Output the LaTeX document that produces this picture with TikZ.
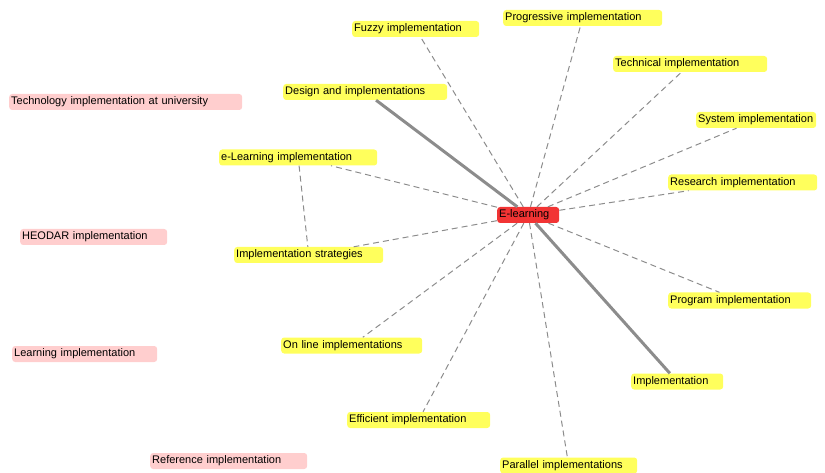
\documentclass[tikz,border=0pt]{standalone}
\usepackage{fontspec}
\setmainfont{Liberation Sans}
\definecolor{tagyellow}{RGB}{255,255,92}
\definecolor{tagpink}{RGB}{255,206,206}
\definecolor{tagred}{RGB}{242,52,52}
\begin{document}
\begin{tikzpicture}[x=1pt, y=-1pt,
    topic/.style = {anchor=west, rounded corners=3pt, inner xsep=2pt, inner ysep=0pt,
      minimum height=16pt, align=left, font=\fontsize{11}{13}\selectfont},
    yel/.style = {topic, fill=tagyellow, text width=#1},
    pink/.style = {topic, fill=tagpink, text width=#1},
    hub/.style = {topic, fill=tagred, text width=#1},
    weak/.style = {draw=black!45, line width=1pt, dash pattern=on 6pt off 4pt},
    strong/.style = {draw=black!45, line width=3pt}]
    \useasboundingbox (0,0) rectangle (825,473);
    % the hub
    \node[hub=58] (elearn) at (497,215) {E-learning};
    % linked terms
    \node[yel=123] (fuzzy) at (352,29) {Fuzzy implementation};
    \node[yel=155] (progr) at (503,18) {Progressive implementation};
    \node[yel=160] (design) at (283,92) {Design and implementations};
    \node[yel=150] (techn) at (613,64) {Technical implementation};
    \node[yel=116] (system) at (696,120) {System implementation};
    \node[yel=154] (elimpl) at (219,157.5) {e-Learning implementation};
    \node[yel=145] (research) at (668,182.5) {Research implementation};
    \node[yel=145] (strat) at (234,255) {Implementation strategies};
    \node[yel=139] (program) at (668,300.5) {Program implementation};
    \node[yel=137] (online) at (281,345.5) {On line implementations};
    \node[yel=88] (impl) at (631,381.5) {Implementation};
    \node[yel=139] (effic) at (347,420) {Efficient implementation};
    \node[yel=133] (parall) at (500,465.5) {Parallel implementations};
    % loose terms
    \node[pink=229] (techuni) at (9,102) {Technology implementation at university};
    \node[pink=143] (heodar) at (20,237) {HEODAR implementation};
    \node[pink=141] (learn) at (12,354) {Learning implementation};
    \node[pink=153] (refer) at (150,461) {Reference implementation};
    % links
    \draw[strong] (design) -- (elearn);
    \draw[strong] (elearn) -- (impl);
    \draw[weak] (elearn) -- (fuzzy);
    \draw[weak] (elearn) -- (progr);
    \draw[weak] (elearn) -- (techn);
    \draw[weak] (elearn) -- (system);
    \draw[weak] (elearn) -- (research);
    \draw[weak] (elearn) -- (program);
    \draw[weak] (elearn) -- (parall);
    \draw[weak] (elearn) -- (effic);
    \draw[weak] (elearn) -- (online);
    \draw[weak] (elearn) -- (strat);
    \draw[weak] (elearn) -- (elimpl);
    \draw[weak] (elimpl) -- (strat);
\end{tikzpicture}
\end{document}
